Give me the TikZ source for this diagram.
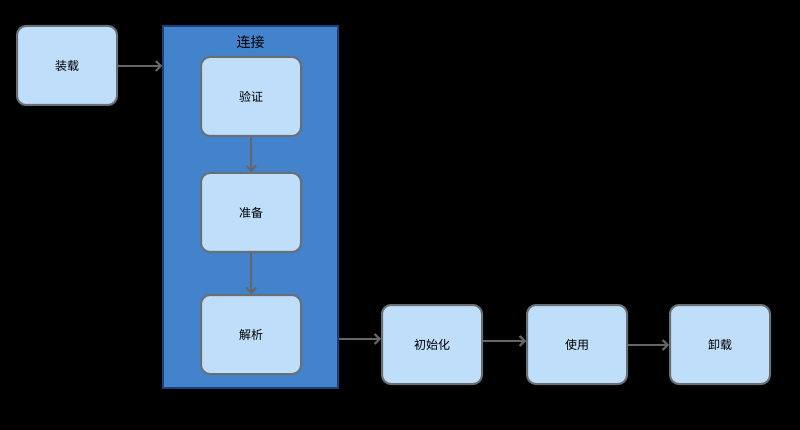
\documentclass[tikz,border=0pt]{standalone}
\usepackage{fontspec}
\newfontfamily\cjk{Noto Sans CJK SC}
\usetikzlibrary{arrows.meta}
\definecolor{nodefill}{HTML}{BFDEFA}
\definecolor{nodeline}{HTML}{6A6F75}
\definecolor{contfill}{HTML}{4383CB}
\definecolor{contline}{HTML}{1E3F78}
\definecolor{arrcol}{HTML}{666666}
\tikzset{
  box/.style={draw=nodeline, fill=nodefill, line width=2pt, rounded corners=9pt,
    minimum width=100pt, minimum height=79pt, inner sep=0pt,
    font=\cjk\fontsize{12}{14}\selectfont, text=black},
  cont/.style={draw=contline, fill=contfill, line width=1.5pt, minimum width=175pt,
    minimum height=362pt, inner sep=0pt},
  arr/.style={draw=arrcol, line width=2pt, -{Straight Barb[length=5pt,width=10pt,line width=2pt]}},
}
\begin{document}
\begin{tikzpicture}[x=1pt,y=-1pt]
\useasboundingbox[fill=black] (0,0) rectangle (800,430);
\node[cont] (container) at (250.5,207) {};
\node[font=\cjk\fontsize{14}{16}\selectfont, text=black] (title) at (250.5,42) {连接};
\node[box] (load) at (67,65.5) {装载};
\node[box] (verify) at (251,96.5) {验证};
\node[box] (prepare) at (251,212.5) {准备};
\node[box] (resolve) at (251,334.5) {解析};
\node[box] (init) at (432,344.5) {初始化};
\node[box] (use) at (577,344.5) {使用};
\node[box] (unload) at (720,344.5) {卸载};
\draw[arr] (load.east |- 0,66) -- (container.west |- 0,66);
\draw[arr] (verify) -- (prepare);
\draw[arr] (prepare) -- (resolve);
\draw[arr] (container.east |- 0,339) -- (init.west |- 0,339);
\draw[arr] (init.east |- 0,341) -- (use.west |- 0,341);
\draw[arr] (use.east |- 0,345) -- (unload.west |- 0,345);
\end{tikzpicture}
\end{document}
